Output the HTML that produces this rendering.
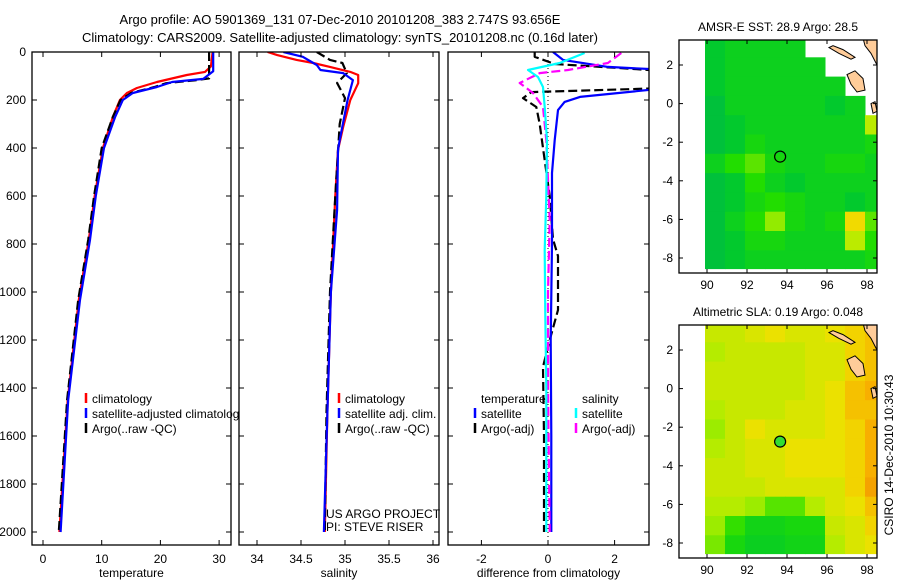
<!DOCTYPE html>
<html><head><meta charset="utf-8">
<style>
html,body{margin:0;padding:0;background:#fff;}
svg{display:block;font-family:"Liberation Sans",sans-serif;}
</style></head>
<body>
<svg id="chart" width="900" height="580" viewBox="0 0 900 580" xmlns="http://www.w3.org/2000/svg"></svg>
<script>
// ---------- data ----------
const tempDepth = [0,80,112,125,146,171,200,270,400,600,783,1033,1450,2000];
const tempSat   = [29.0,29.0,27.3,22,19.4,15.3,13.6,12.3,10.4,9.0,8.0,6.3,4.3,3.0];
const tempClimDepth=[0,60,83,96,125,150,171,200,270,400,600,783,1033,1450,2000];
const tempClim  = [28.9,28.6,27.6,24.5,19.4,16,14.3,13.1,11.9,10.2,8.8,7.8,6.1,4.2,2.8];
const tempArgoDepth=[0,110,117,130,146,171,200,270,400,600,783,1033,1450,2000];
const tempArgo  = [28.3,28.3,26.2,21,19.0,15.0,13.2,11.9,10.0,8.7,7.7,6.0,4.1,2.7];

const salClimDepth=[0,13,33,46,62,83,96,130,200,312,408,600,1000,1500,2000];
const salClim = [34.12,34.23,34.45,34.64,34.83,35.06,35.15,35.15,35.06,34.98,34.92,34.89,34.84,34.80,34.77];
const salSatDepth=[0,20,46,54,75,88,117,200,367,408,658,1000,1500,2000];
const salSat  = [34.30,34.52,34.64,34.68,34.72,34.98,35.09,35.03,34.94,34.92,34.91,34.84,34.80,34.76];
const salArgoDepth=[0,33,46,88,129,171,192,300,600,1000,1500,2000];
const salArgo = [34.68,34.83,34.97,35.02,34.91,34.97,35.0,34.94,34.89,34.83,34.79,34.77];

const dTempSatDepth=[0,33,62,75,150,187,208,242,367,504,800,1200,1600,2000];
const dTempSat=[0.15,0.45,1.8,3.6,3.6,0.96,0.5,0.3,0.2,0.12,0.12,0.08,0.1,0.1];
const dTempArgoDepth=[0,20,50,70,80,150,167,192,229,300,400,600,780,850,1075,1200,1312,1600,2000];
const dTempArgo=[-0.4,-0.4,0.2,2.5,3.6,3.6,-0.5,-0.75,-0.35,-0.25,-0.15,0.05,0.15,0.3,0.3,0.05,-0.15,-0.12,-0.12];
const dSalSatDepth=[4,46,75,104,146,229,367,600,825,1100,1400,2000];
const dSalSat=[1.1,0.35,-0.6,-0.3,-0.15,-0.1,-0.03,-0.05,-0.1,-0.08,-0.05,-0.05];
const dSalArgoDepth=[4,46,75,88,129,171,229,367,700,1000,1400,2000];
const dSalArgo=[2.2,1.8,0.6,-0.25,-0.85,-0.45,-0.15,-0.05,0.05,0.0,0.0,0.05];

const sstRows=[
[28.3,28.4,28.4,28.4,28.4,null,null,null,null],
[28.3,28.4,28.4,28.4,28.4,28.4,null,null,null],
[28.3,28.4,28.4,28.4,28.4,28.4,28.4,null,null],
[28.2,28.4,28.4,28.4,28.4,28.4,28.3,28.4,null],
[28.2,28.3,28.4,28.4,28.4,28.4,28.4,28.4,28.9],
[28.2,28.3,28.5,28.4,28.4,28.4,28.4,28.4,28.5],
[28.4,28.6,28.7,28.5,28.4,28.4,28.5,28.5,28.4],
[28.2,28.3,28.6,28.4,28.3,28.4,28.4,28.4,28.4],
[28.2,28.3,28.5,28.6,28.5,28.4,28.4,28.3,28.4],
[28.2,28.4,28.6,28.8,28.5,28.4,28.5,29.1,28.7],
[28.2,28.3,28.5,28.5,28.4,28.4,28.4,28.9,28.6],
[28.2,28.3,28.4,28.4,28.4,28.4,28.4,28.4,28.5]];
const slaRows=[
[.21,.21,.22,.23,.22,.22,.23,.24,.25],
[.20,.21,.21,.21,.21,.22,.22,.24,.25],
[.21,.21,.21,.21,.21,.22,.22,.24,.25],
[.21,.21,.21,.21,.21,.22,.23,.25,.26],
[.20,.21,.21,.21,.22,.22,.23,.25,.25],
[.19,.21,.23,.22,.22,.22,.23,.24,.26],
[.20,.21,.22,.22,.23,.23,.23,.24,.26],
[.21,.21,.22,.22,.23,.23,.23,.24,.26],
[.21,.21,.21,.22,.22,.22,.22,.24,.27],
[.20,.20,.19,.17,.17,.20,.22,.23,.25],
[.19,.16,.13,.13,.14,.14,.21,.22,.24],
[.18,.14,.12,.12,.13,.13,.20,.22,.23]];
const argoLon=93.656, argoLat=-2.747;

// ---------- helpers ----------
const NS="http://www.w3.org/2000/svg";
const svg=document.getElementById('chart');
function el(tag,attrs,parent){const e=document.createElementNS(NS,tag);for(const k in attrs)e.setAttribute(k,attrs[k]);(parent||svg).appendChild(e);return e;}
function txt(s,x,y,attrs,parent){const t=el('text',Object.assign({x:x,y:y,'font-size':12,fill:'#000'},attrs||{}),parent);t.textContent=s;return t;}
const yD=d=>52+d*0.24;
const P={top:52,bottom:545};

function panel(name,left,right,xs,ticks,fmt,label){
  const g=el('g',{});
  
  
  el('rect',{x:left,y:P.top,width:right-left,height:P.bottom-P.top,fill:'#fff',stroke:'none'},g);
  const cid='clip-'+name;
  const cp=el('clipPath',{id:cid},g);el('rect',{x:left,y:P.top,width:right-left,height:P.bottom-P.top},cp);
  const inner=el('g',{'clip-path':'url(#'+cid+')'},g);
  ticks.forEach(v=>{const x=xs(v);
    el('line',{x1:x,x2:x,y1:P.bottom,y2:P.bottom-5,stroke:'#000'},g);
    el('line',{x1:x,x2:x,y1:P.top,y2:P.top+5,stroke:'#000'},g);
    const t=txt(fmt(v),x,563,{'text-anchor':'middle'},g);
    });
  for(let d=0;d<=2000;d+=200){const y=yD(d);
    el('line',{x1:left,x2:left+5,y1:y,y2:y,stroke:'#000'},g);
    el('line',{x1:right,x2:right-5,y1:y,y2:y,stroke:'#000'},g);}
  const xl=txt(label,(left+right)/2,577,{'text-anchor':'middle'},g);
  
  return {g,inner,left,right,xs};
}
function series(p,depths,vals,color,name,dash){
  const d=vals.map((v,i)=>(i?'L':'M')+p.xs(v).toFixed(1)+','+yD(depths[i]).toFixed(1)).join('');
  const path=el('path',{d:d,fill:'none',stroke:color,'stroke-width':2.2,'stroke-dasharray':dash||'none','stroke-linejoin':'round'},p.inner);
  
  
}
function frame(p){el('rect',{x:p.left,y:P.top,width:p.right-p.left,height:P.bottom-P.top,fill:'none',stroke:'#000','stroke-width':1.3},p.g);}
function legend(p,items,x,y0){items.forEach((it,i)=>{const y=y0+i*15;
  const g=el('g',{},p.g);
  
  
  if(it.c)el('line',{x1:x,x2:x,y1:y-10,y2:y,stroke:it.c,'stroke-width':2.5},g);
  txt(it.t,x+6,y,{},g);});}

// titles
const t1=txt('Argo profile: AO 5901369_131 07-Dec-2010 20101208_383 2.747S 93.656E',340,24,{'text-anchor':'middle','font-size':13});

const t2=txt('Climatology: CARS2009. Satellite-adjusted climatology: synTS_20101208.nc (0.16d later)',340,42,{'text-anchor':'middle','font-size':13});


// panel 1 temperature
const p1=panel('temperature-panel',32,231,v=>43+v*5.87,[0,10,20,30],v=>String(v),'temperature');
for(let d=0;d<=2000;d+=200){const l=txt(String(d),26,yD(d)+4,{'text-anchor':'end'},p1.g);}
series(p1,tempClimDepth,tempClim,'#ff0000','temp-climatology-line');
series(p1,tempArgoDepth,tempArgo,'#000','temp-argo-line','9,4');
series(p1,tempDepth,tempSat,'#0000ff','temp-satellite-line');
frame(p1);
legend(p1,[{c:'#ff0000',t:'climatology'},{c:'#0000ff',t:'satellite-adjusted climatology'},{c:'#000',t:'Argo(..raw -QC)'}],86,403);

// panel 2 salinity
const p2=panel('salinity-panel',239,439,v=>257+(v-34)*88,[34,34.5,35,35.5,36],v=>String(v),'salinity');
series(p2,salClimDepth,salClim,'#ff0000','sal-climatology-line');
series(p2,salArgoDepth,salArgo,'#000','sal-argo-line','9,4');
series(p2,salSatDepth,salSat,'#0000ff','sal-satellite-line');
frame(p2);
legend(p2,[{c:'#ff0000',t:'climatology'},{c:'#0000ff',t:'satellite adj. clim.'},{c:'#000',t:'Argo(..raw -QC)'}],339,403);
const pi1=txt('US ARGO PROJECT',326,518,{},p2.g);
const pi2=txt('PI: STEVE RISER',326,531,{},p2.g);

// panel 3 differences
const p3=panel('difference-panel',448,649,v=>548+v*33.3,[-2,0,2],v=>String(v),'difference from climatology');
el('line',{x1:548,x2:548,y1:P.top,y2:P.bottom,stroke:'#000','stroke-dasharray':'1,3'},p3.inner);
series(p3,dTempArgoDepth,dTempArgo,'#000','dtemp-argo-line','9,4');
series(p3,dTempSatDepth,dTempSat,'#0000ff','dtemp-satellite-line');
series(p3,dSalArgoDepth,dSalArgo,'#ff00ff','dsal-argo-line','9,4');
series(p3,dSalSatDepth,dSalSat,'#00ffff','dsal-satellite-line');
frame(p3);
legend(p3,[{t:'temperature'},{c:'#0000ff',t:'satellite'},{c:'#000',t:'Argo(-adj)'}],475,403);
legend(p3,[{t:'salinity'},{c:'#00ffff',t:'satellite'},{c:'#ff00ff',t:'Argo(-adj)'}],576,403);

// ---------- maps ----------
const stops=[[0,[0,160,112]],[0.3,[0,200,48]],[0.5,[34,221,0]],[0.65,[170,238,0]],[0.8,[240,224,0]],[0.9,[248,176,0]],[1,[240,144,0]]];
function cmap(t){t=Math.max(0,Math.min(1,t));for(let i=1;i<stops.length;i++){if(t<=stops[i][0]){const a=stops[i-1],b=stops[i],f=(t-a[0])/(b[0]-a[0]);return 'rgb('+a[1].map((c,k)=>Math.round(c+(b[1][k]-c)*f)).join(',')+')';}}return 'rgb(240,144,0)';}
const lonX=lon=>707+(lon-90)*20;
function drawMap(name,top,bottom,lat0y,rows,norm,title,filledMarker){
  const g=el('g',{});
  
  
  const latY=lat=>lat0y-lat*19.3;
  const L=679,R=877;
  const cid='clip-'+name;const cp=el('clipPath',{id:cid},g);el('rect',{x:L,y:top,width:R-L,height:bottom-top},cp);
  const inner=el('g',{'clip-path':'url(#'+cid+')'},g);
  const lat0=3.4,lonS=89.9,lonE=98.9;
  rows.forEach((row,r)=>row.forEach((v,c)=>{if(v===null)return;
    const la1=lat0-r, la2=Math.max(-8.55,lat0-r-1);
    const lo1=lonS+c, lo2=Math.min(lonE,lonS+c+1);
    const rc=el('rect',{x:lonX(lo1).toFixed(1),y:latY(la1).toFixed(1),width:(lonX(lo2)-lonX(lo1)+0.5).toFixed(1),height:(latY(la2)-latY(la1)+0.5).toFixed(1),fill:cmap(norm(v))},inner);
    
    }));
  // land
  const lands=[[[97.8,3.4],[98.9,3.4],[98.9,1.8],[98.5,2.0],[98.2,2.6],[97.9,3.0]],
    [[96.1,2.9],[96.6,2.6],[97.2,2.3],[97.4,2.4],[96.8,2.8],[96.3,3.0]],
    [[97.0,1.5],[97.4,1.7],[97.8,1.3],[97.9,0.7],[97.5,0.6],[97.2,1.0]],
    [[98.2,0.0],[98.4,0.1],[98.5,-0.4],[98.3,-0.5]],[[98.7,-1.1],[98.9,-1.0],[98.9,-1.6]]];
  lands.forEach(poly=>{const lp=el('polygon',{points:poly.map(p=>lonX(p[0]).toFixed(1)+','+latY(p[1]).toFixed(1)).join(' '),fill:'#ffcc99',stroke:'#000','stroke-width':1},inner);
    });
  const mk=el('circle',{cx:lonX(argoLon),cy:latY(argoLat),r:5.5,fill:filledMarker?'#33dd33':'none',stroke:'#000','stroke-width':1.2},g);
  
  el('rect',{x:L,y:top,width:R-L,height:bottom-top,fill:'none',stroke:'#000','stroke-width':1.3},g);
  [90,92,94,96,98].forEach(lo=>{const x=lonX(lo);
    el('line',{x1:x,x2:x,y1:bottom,y2:bottom-4,stroke:'#000'},g);el('line',{x1:x,x2:x,y1:top,y2:top+4,stroke:'#000'},g);
    const l=txt(String(lo),x,bottom+16,{'text-anchor':'middle'},g);});
  [2,0,-2,-4,-6,-8].forEach(la=>{const y=latY(la);
    el('line',{x1:L,x2:L+4,y1:y,y2:y,stroke:'#000'},g);el('line',{x1:R,x2:R-4,y1:y,y2:y,stroke:'#000'},g);
    const l=txt(String(la),673,y+4,{'text-anchor':'end'},g);});
  const tt=txt(title,778,top-9,{'text-anchor':'middle'},g);
}
drawMap('sst-map',40,273,103.6,sstRows,v=>(v-27.8)/1.6,'AMSR-E SST: 28.9 Argo: 28.5',false);
drawMap('sla-map',325,558,388.6,slaRows,v=>(v-0.025)/0.26,'Altimetric SLA: 0.19 Argo: 0.048',true);

const stamp=txt('CSIRO 14-Dec-2010 10:30:43',0,0,{'text-anchor':'middle',transform:'translate(893,455) rotate(-90)'});

</script>
</body></html>
